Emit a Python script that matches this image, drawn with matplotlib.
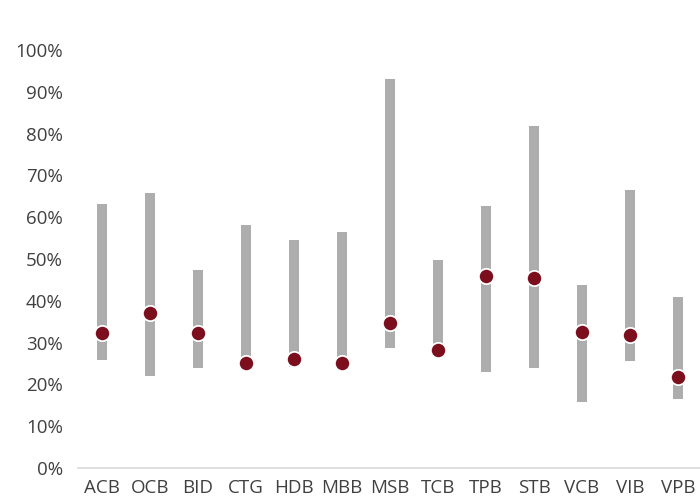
import matplotlib.pyplot as plt
from matplotlib.ticker import PercentFormatter

# Data (percent)
banks = ["ACB", "OCB", "BID", "CTG", "HDB", "MBB", "MSB",
         "TCB", "TPB", "STB", "VCB", "VIB", "VPB"]
low = [25.8, 22.1, 24.0, 24.6, 24.2, 24.6, 28.7, 27.8, 23.0, 23.9, 15.9, 25.6, 16.5]
high = [63.2, 65.7, 47.3, 58.2, 54.5, 56.5, 93.0, 49.8, 62.7, 81.9, 43.7, 66.4, 40.9]
current = [32.2, 37.2, 32.2, 25.1, 26.1, 25.1, 34.7, 28.2, 46.0, 45.4, 32.6, 31.8, 21.8]

plt.rcParams['font.family'] = ['Open Sans', 'DejaVu Sans']

fig = plt.figure(figsize=(7, 5.01), dpi=100)
ax = fig.add_axes([78 / 700, 33 / 501, 624 / 700, 418 / 501])

x = range(len(banks))
heights = [h - l for h, l in zip(high, low)]
ax.bar(x, heights, bottom=low, width=0.19, color='#ADADAD', zorder=2)
ax.plot(x, current, linestyle='none', marker='o', markersize=11,
        markerfacecolor='#7B0F1E', markeredgecolor='white', markeredgewidth=1.3, zorder=3)

ax.set_xlim(-0.5, len(banks) - 0.5)
ax.set_ylim(0, 100)
ax.set_yticks(range(0, 101, 10))
ax.yaxis.set_major_formatter(PercentFormatter(decimals=0))
ax.set_xticks(list(x))
ax.set_xticklabels(banks)

for side in ['top', 'right', 'left']:
    ax.spines[side].set_visible(False)
ax.spines['bottom'].set_color('#D9D9D9')
ax.spines['bottom'].set_linewidth(1.2)
ax.tick_params(length=0, labelsize=13.5, colors='#404040')
ax.tick_params(axis='y', pad=11)
ax.tick_params(axis='x', pad=8)

fig.savefig('out.png', dpi=100)
